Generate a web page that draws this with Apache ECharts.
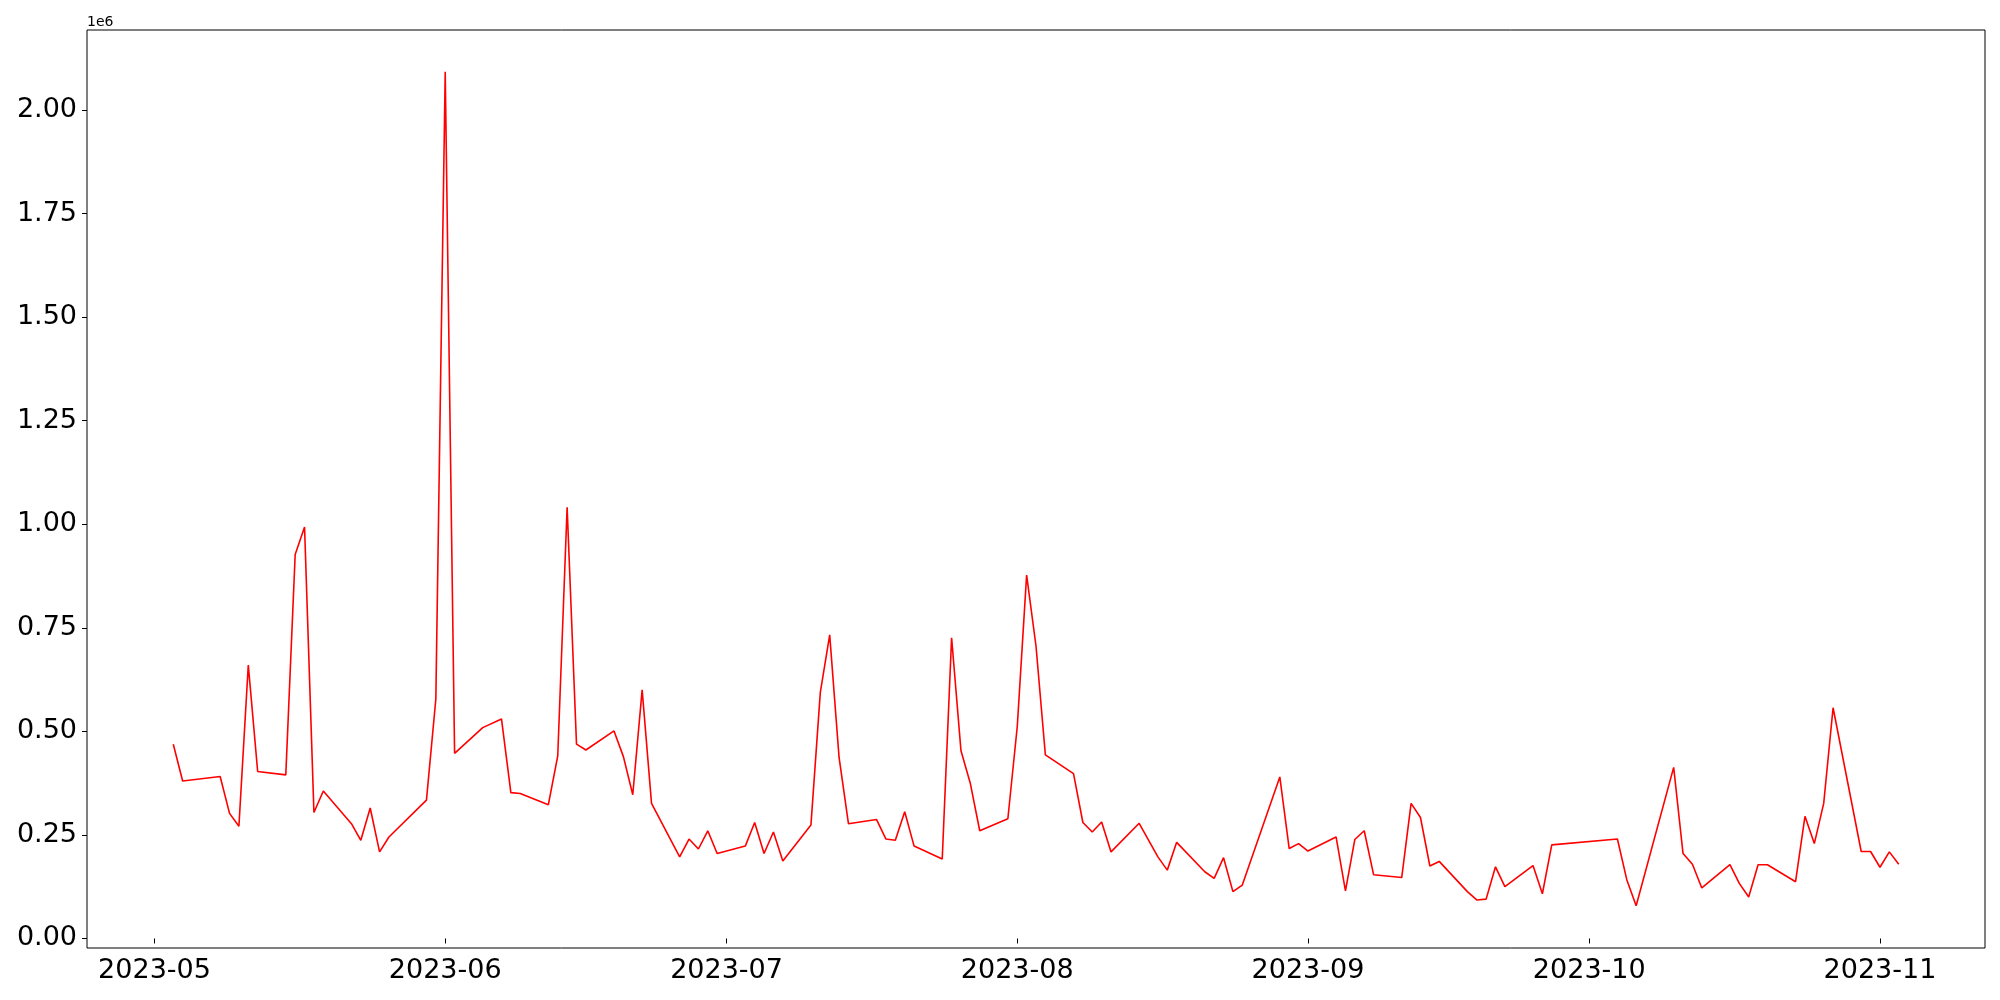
<!DOCTYPE html>
<html>
<head>
<meta charset="utf-8">
<script src="https://cdn.jsdelivr.net/npm/echarts@6/dist/echarts.min.js"></script>
<style>html,body{margin:0;padding:0;background:#fff}#c{width:2000px;height:1000px}</style>
</head>
<body>
<div id="c"></div>
<script>
const dates = [
"2023-05-03","2023-05-04","2023-05-08","2023-05-09","2023-05-10","2023-05-11","2023-05-12",
"2023-05-15","2023-05-16","2023-05-17","2023-05-18","2023-05-19","2023-05-22","2023-05-23",
"2023-05-24","2023-05-25","2023-05-26","2023-05-30","2023-05-31","2023-06-01","2023-06-02",
"2023-06-05","2023-06-07","2023-06-08","2023-06-09","2023-06-12","2023-06-13","2023-06-14",
"2023-06-15","2023-06-16","2023-06-19","2023-06-20","2023-06-21","2023-06-22","2023-06-23",
"2023-06-26","2023-06-27","2023-06-28","2023-06-29","2023-06-30","2023-07-03","2023-07-04",
"2023-07-05","2023-07-06","2023-07-07","2023-07-10","2023-07-11","2023-07-12","2023-07-13",
"2023-07-14","2023-07-17","2023-07-18","2023-07-19","2023-07-20","2023-07-21","2023-07-24",
"2023-07-25","2023-07-26","2023-07-27","2023-07-28","2023-07-31","2023-08-01","2023-08-02",
"2023-08-03","2023-08-04","2023-08-07","2023-08-08","2023-08-09","2023-08-10","2023-08-11",
"2023-08-14","2023-08-16","2023-08-17","2023-08-18","2023-08-21","2023-08-22","2023-08-23",
"2023-08-24","2023-08-25","2023-08-29","2023-08-30","2023-08-31","2023-09-01","2023-09-04",
"2023-09-05","2023-09-06","2023-09-07","2023-09-08","2023-09-11","2023-09-12","2023-09-13",
"2023-09-14","2023-09-15","2023-09-18","2023-09-19","2023-09-20","2023-09-21","2023-09-22",
"2023-09-25","2023-09-26","2023-09-27","2023-10-04","2023-10-05","2023-10-06","2023-10-10",
"2023-10-11","2023-10-12","2023-10-13","2023-10-16","2023-10-17","2023-10-18","2023-10-19",
"2023-10-20","2023-10-23","2023-10-24","2023-10-25","2023-10-26","2023-10-27","2023-10-30",
"2023-10-31","2023-11-01","2023-11-02","2023-11-03"
];
const values = [
469000,380000,391000,302000,271000,660000,403000,
395000,927000,993000,304000,356000,277000,237000,
315000,209000,245000,334000,578000,2092000,447000,
509000,530000,352000,350000,323000,441000,1041000,
469000,455000,501000,439000,347000,600000,326000,
197000,240000,216000,260000,205000,223000,280000,
205000,257000,187000,274000,594000,733000,437000,
277000,287000,240000,237000,306000,223000,192000,
726000,453000,374000,260000,289000,511000,877000,
706000,443000,398000,280000,257000,281000,209000,
278000,197000,165000,232000,161000,145000,195000,
113000,129000,390000,217000,229000,211000,245000,
115000,239000,260000,154000,147000,326000,292000,
175000,186000,113000,93000,95000,173000,125000,
176000,108000,226000,240000,142000,79000,413000,
205000,179000,122000,178000,133000,100000,178000,
178000,137000,295000,229000,326000,557000,210000,
210000,172000,209000,179000
];
const xTickLabels = ["2023-05","2023-06","2023-07","2023-08","2023-09","2023-10","2023-11"];
const yTicks = [0,250000,500000,750000,1000000,1250000,1500000,1750000,2000000];

const DAY = 86400000;
function ts(s){ const p = s.split('-').map(Number); return Date.UTC(p[0], p[1]-1, p[2] || 1); }
const xTickValues = xTickLabels.map(ts);
const base = ts("2023-05-01");
const font = 'DejaVu Sans';

const chart = echarts.init(document.getElementById('c'), null, {renderer:'canvas'});
chart.setOption({
  animation: false,
  backgroundColor: '#ffffff',
  title: {
    text: '1e6', left: 87, top: 15, padding: 0,
    textStyle: {fontFamily: font, fontSize: 14, fontWeight: 'normal', color: '#000'}
  },
  grid: {
    left: 87, right: 15, top: 30, bottom: 52,
    show: true, borderColor: '#000', borderWidth: 1, backgroundColor: 'transparent'
  },
  xAxis: {
    type: 'value',
    min: base - 7.2 * DAY,
    max: base + 195.2 * DAY,
    axisLine: {show: false},
    splitLine: {show: false},
    axisTick: {show: true, length: 5, inside: false, customValues: xTickValues, lineStyle: {color: '#000', width: 1}},
    axisLabel: {
      customValues: xTickValues,
      margin: 9,
      fontFamily: font, fontSize: 27, color: '#000',
      formatter: function (v) {
        const i = xTickValues.indexOf(v);
        return i >= 0 ? xTickLabels[i] : '';
      }
    }
  },
  yAxis: {
    type: 'value',
    min: -23000,
    max: 2193000,
    axisLine: {show: false},
    splitLine: {show: false},
    axisTick: {show: true, length: 5, inside: false, customValues: yTicks, lineStyle: {color: '#000', width: 1}},
    axisLabel: {
      customValues: yTicks,
      margin: 10,
      fontFamily: font, fontSize: 27, color: '#000',
      formatter: function (v) { return (v / 1e6).toFixed(2); }
    }
  },
  series: [{
    type: 'line',
    data: dates.map((d, i) => [ts(d), values[i]]),
    showSymbol: false,
    symbol: 'none',
    lineStyle: {color: '#ff0000', width: 1.6},
    itemStyle: {color: '#ff0000'}
  }]
});
</script>
</body>
</html>
